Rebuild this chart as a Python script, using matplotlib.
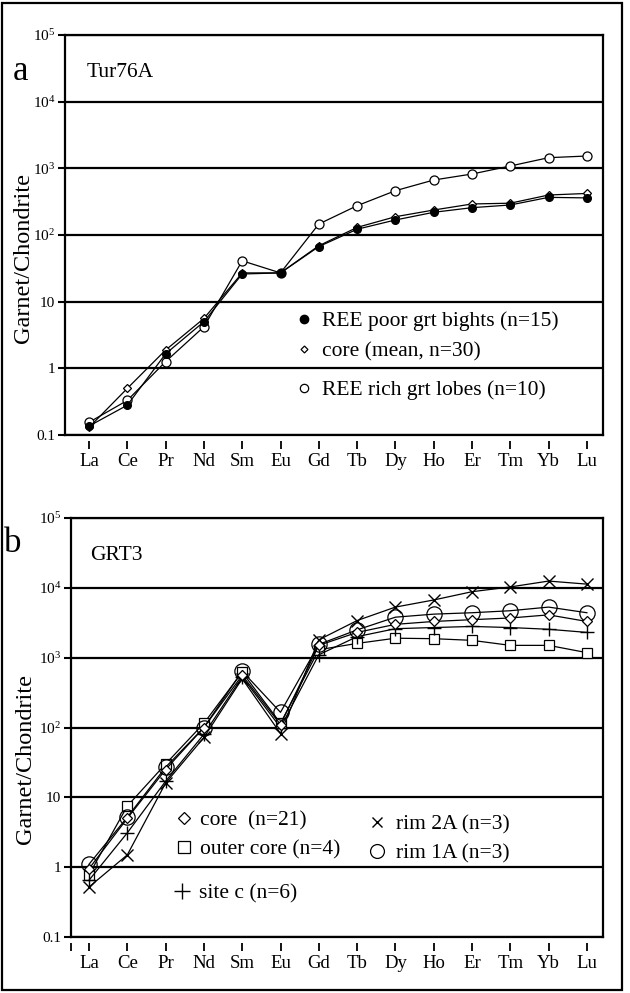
import matplotlib
matplotlib.use('Agg')
import matplotlib.pyplot as plt
from matplotlib.lines import Line2D
from matplotlib.patches import Rectangle

plt.rcParams['font.family'] = ['Liberation Serif', 'DejaVu Serif']

ree = ['La', 'Ce', 'Pr', 'Nd', 'Sm', 'Eu', 'Gd', 'Tb', 'Dy', 'Ho', 'Er', 'Tm', 'Yb', 'Lu']

# panel a - Tur76A
poor_a = [0.136, 0.28, 1.65, 5.0, 26, 27, 67, 122, 168, 219, 257, 282, 367, 360]
core_a = [0.13, 0.50, 1.88, 5.6, 27, 27, 69, 130, 188, 237, 292, 300, 398, 420]
rich_a = [0.155, 0.33, 1.26, 4.2, 41, 27, 146, 275, 462, 668, 822, 1084, 1445, 1530]

# panel b - GRT3
core_b = [0.95, 5.0, 25, 100, 560, 110, 1500, 2300, 3000, 3300, 3500, 3700, 4100, 3300]
outer_b = [0.78, 7.5, 30, 115, 620, 115, 1300, 1600, 1900, 1870, 1770, 1500, 1500, 1180]
rim2a_b = [0.52, 1.5, 16, 72, 500, 82, 1800, 3400, 5300, 6700, 8800, 10300, 12500, 11300]
rim1a_b = [1.1, 5.2, 27, 100, 640, 165, 1550, 2500, 3800, 4200, 4400, 4700, 5300, 4400]
sitec_b = [0.65, 3.1, 17, 80, 530, 100, 1100, 2000, 2600, 2700, 2800, 2700, 2550, 2300]

W, H = 630, 993
fig = plt.figure(figsize=(W / 100, H / 100), dpi=100)

x = list(range(len(ree)))
decades = [0.1, 1, 10, 100, 1000, 10000, 100000]
dec_labels = ['0.1', '1', '10', r'$\mathregular{10^{2}}$', r'$\mathregular{10^{3}}$',
              r'$\mathregular{10^{4}}$', r'$\mathregular{10^{5}}$']
FS = 15.5


def setup(ax, left_px, top_px, bottom_px, extra_tick=False):
    ax.set_yscale('log')
    ax.set_ylim(0.1, 1e5)
    xl = (left_px - 89) / 38.3
    ax.set_xlim(xl, (603 - 89) / 38.3)
    ax.set_yticks(decades)
    ax.set_yticklabels(dec_labels, fontsize=11)
    ax.yaxis.set_minor_locator(matplotlib.ticker.NullLocator())
    ax.tick_params(axis='y', direction='out', length=5, width=1.5, pad=2)
    ax.grid(axis='y', color='black', lw=1.6)
    ax.set_axisbelow(True)
    ax.set_xticks([])
    for s in ax.spines.values():
        s.set_linewidth(1.6)
    sec = ax.secondary_xaxis(-6 / (bottom_px - top_px))
    ticks = x[:]
    labels = ree[:]
    if extra_tick:
        ticks = [xl] + ticks
        labels = [''] + labels
    sec.set_xticks(ticks)
    sec.set_xticklabels(labels, fontsize=13.5)
    sec.spines['bottom'].set_visible(False)
    sec.tick_params(direction='out', length=6, width=1.3, pad=3)
    ax.set_ylabel('Garnet/Chondrite', fontsize=17.5)


def leg(ax, handles, labels, left, top, pad, spacing=0.3):
    lg = ax.legend(handles, labels, loc='upper left', bbox_to_anchor=(left, top),
                   frameon=False, fontsize=FS, handlelength=0.8, handletextpad=pad,
                   borderpad=0, borderaxespad=0, labelspacing=spacing)
    ax.add_artist(lg)
    ax.legend_ = None
    return lg


# panel a
axa = fig.add_axes([65 / W, (H - 435) / H, 538 / W, 400 / H])
setup(axa, 65, 35, 435)
axa.yaxis.set_label_coords(-0.058, 0.4425)
lw = 0.9
axa.plot(x, rich_a, color='black', lw=lw, marker='o', ms=6.5, mfc='white', mec='black', mew=0.9)
axa.plot(x, core_a, color='black', lw=lw, marker='D', ms=4, mfc='white', mec='black', mew=0.9)
axa.plot(x, poor_a, color='black', lw=lw, marker='o', ms=5.5, mfc='black', mec='black')

ax_l = (295.5 - 65) / 538
leg(axa, [Line2D([], [], ls='none', marker='o', ms=6, mfc='black', mec='black'),
          Line2D([], [], ls='none', marker='D', ms=3.5, mfc='white', mec='black', mew=0.9)],
    ['REE poor grt bights (n=15)', 'core (mean, n=30)'],
    ax_l, (435 - 311) / 400, 0.44, spacing=0.5)
leg(axa, [Line2D([], [], ls='none', marker='o', ms=6, mfc='white', mec='black', mew=0.9)],
    ['REE rich grt lobes (n=10)'], ax_l, (435 - 380) / 400, 0.44)

fig.text(21 / W, 1 - 71 / H, 'a', fontsize=25, ha='center', va='center')
fig.text(87 / W, 1 - 72 / H, 'Tur76A', fontsize=FS, ha='left', va='center')

# panel b
axb = fig.add_axes([71 / W, (H - 937) / H, 532 / W, 419 / H])
setup(axb, 71, 518, 937, extra_tick=True)
axb.yaxis.set_label_coords(-0.066, 0.425)
axb.plot(x, outer_b, color='black', lw=lw, marker='s', ms=7, mfc='white', mec='black', mew=0.9)
axb.plot(x, sitec_b, color='black', lw=lw, marker='+', ms=10, mec='black', mew=1.0)
axb.plot(x, rim2a_b, color='black', lw=lw, marker='x', ms=8, mec='black', mew=1.0)
axb.plot(x, rim1a_b, color='black', lw=lw, marker='o', ms=11, mfc='none', mec='black', mew=0.9)
axb.plot(x, core_b, color='black', lw=lw, marker='D', ms=5, mfc='white', mec='black', mew=0.9)

leg(axb, [Line2D([], [], ls='none', marker='D', ms=6, mfc='white', mec='black', mew=0.9),
          Line2D([], [], ls='none', marker='s', ms=8, mfc='white', mec='black', mew=0.9)],
    ['core  (n=21)', 'outer core (n=4)'],
    (175.4 - 71) / 532, (937 - 810) / 419, 0.34, spacing=0.42)
leg(axb, [Line2D([], [], ls='none', marker='x', ms=7, mec='black', mew=1.0),
          Line2D([], [], ls='none', marker='o', ms=10, mfc='white', mec='black', mew=0.9)],
    ['rim 2A (n=3)', 'rim 1A (n=3)'],
    (368 - 71) / 532, (937 - 814) / 419, 0.5, spacing=0.42)
leg(axb, [Line2D([], [], ls='none', marker='+', ms=11, mec='black', mew=1.0)],
    ['site c (n=6)'], (173 - 71) / 532, (937 - 883) / 419, 0.4)

fig.text(13 / W, 1 - 543 / H, 'b', fontsize=25, ha='center', va='center')
fig.text(90 / W, 1 - 555 / H, 'GRT3', fontsize=FS, ha='left', va='center')

fig.patches.append(Rectangle((1.5 / W, 3 / H), 620 / W, 987 / H, transform=fig.transFigure,
                             fill=False, lw=1.6, edgecolor='black'))

fig.savefig('out.png', dpi=100)
